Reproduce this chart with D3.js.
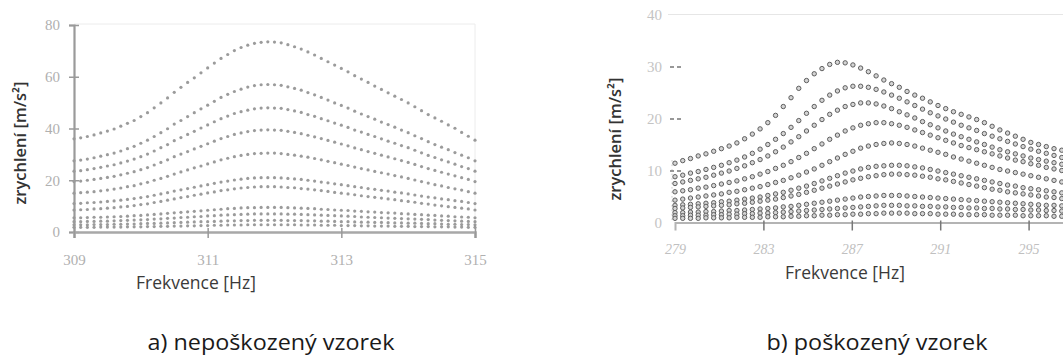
<!DOCTYPE html>
<html>
<head>
<meta charset="utf-8">
<script src="https://cdn.jsdelivr.net/npm/d3@7"></script>
<style>
  body { margin: 0; background: #fff; }
  svg { display: block; }
</style>
</head>
<body>
<script>
"use strict";

// ---- a) nepoškozený vzorek ----
const freqA = [309.0,309.1,309.2,309.3,309.4,309.5,309.6,309.7,309.8,309.9,
  310.0,310.1,310.2,310.3,310.4,310.5,310.6,310.7,310.8,310.9,
  311.0,311.1,311.2,311.3,311.4,311.5,311.6,311.7,311.8,311.9,
  312.0,312.1,312.2,312.3,312.4,312.5,312.6,312.7,312.8,312.9,
  313.0,313.1,313.2,313.3,313.4,313.5,313.6,313.7,313.8,313.9,
  314.0,314.1,314.2,314.3,314.4,314.5,314.6,314.7,314.8,314.9,
  315.0];

const a1 = [36.0,36.4,36.9,37.5,38.3,39.0,39.8,40.9,42.0,43.1,44.6,46.1,48.0,49.9,51.8,54.0,55.9,57.8,59.6,61.5,63.4,65.3,67.1,68.6,70.1,71.3,72.2,72.9,73.3,73.5,73.4,73.1,72.4,71.6,70.7,69.6,68.4,67.1,65.8,64.5,63.2,61.9,60.4,59.1,57.8,56.4,55.1,53.8,52.5,51.2,49.9,48.4,46.9,45.4,44.1,42.8,41.4,40.1,38.5,37.0,35.5];
const a2 = [27.5,27.8,28.2,28.7,29.3,29.9,30.5,31.3,32.2,33.1,34.3,35.5,36.9,38.4,39.9,41.7,43.1,44.6,46.1,47.6,49.0,50.5,52.0,53.2,54.3,55.2,56.0,56.6,56.9,57.0,56.9,56.7,56.1,55.5,54.8,53.9,53.0,52.0,51.0,49.9,48.9,47.9,46.7,45.6,44.6,43.6,42.5,41.5,40.5,39.4,38.4,37.2,36.1,34.9,33.8,32.8,31.8,30.7,29.7,28.7,27.5];
const a3 = [23.5,23.7,24.1,24.5,25.0,25.5,26.0,26.7,27.4,28.2,29.1,30.1,31.3,32.6,33.8,35.3,36.5,37.7,38.9,40.2,41.4,42.6,43.8,44.8,45.8,46.5,47.1,47.6,47.9,48.0,47.9,47.8,47.3,46.8,46.2,45.4,44.7,43.8,43.0,42.1,41.3,40.4,39.4,38.6,37.7,36.9,36.0,35.1,34.3,33.4,32.6,31.6,30.6,29.6,28.8,27.9,27.1,26.2,25.3,24.5,23.5];
const a4 = [19.5,19.7,20.0,20.3,20.7,21.1,21.5,22.1,22.7,23.3,24.1,24.9,25.9,26.9,27.9,29.1,30.1,31.1,32.1,33.1,34.1,35.1,36.1,36.9,37.7,38.3,38.8,39.2,39.4,39.5,39.4,39.3,38.9,38.5,38.0,37.4,36.8,36.1,35.4,34.7,34.0,33.3,32.5,31.8,31.1,30.4,29.7,29.0,28.3,27.6,26.9,26.1,25.3,24.5,23.8,23.1,22.4,21.7,21.0,20.3,19.5];
const a5 = [15.0,15.2,15.4,15.6,15.9,16.2,16.6,17.0,17.5,17.9,18.6,19.2,20.0,20.7,21.5,22.4,23.2,24.0,24.8,25.5,26.3,27.1,27.9,28.5,29.1,29.6,30.0,30.3,30.4,30.5,30.5,30.3,30.0,29.7,29.3,28.9,28.4,27.9,27.3,26.8,26.2,25.7,25.1,24.5,24.0,23.4,22.9,22.4,21.8,21.3,20.7,20.1,19.5,18.9,18.3,17.8,17.2,16.7,16.2,15.6,15.0];
const a6 = [11.0,11.1,11.3,11.4,11.6,11.8,12.0,12.3,12.6,12.9,13.3,13.7,14.2,14.7,15.2,15.8,16.3,16.8,17.3,17.8,18.3,18.8,19.3,19.7,20.1,20.4,20.7,20.9,21.0,21.0,21.0,20.9,20.7,20.5,20.3,20.0,19.7,19.3,19.0,18.6,18.3,17.9,17.5,17.2,16.8,16.5,16.1,15.8,15.4,15.1,14.7,14.3,13.9,13.5,13.2,12.8,12.5,12.1,11.8,11.4,11.0];
const a7 = [8.5,8.6,8.7,8.9,9.0,9.2,9.4,9.7,9.9,10.2,10.6,10.9,11.4,11.8,12.3,12.8,13.3,13.7,14.2,14.6,15.1,15.5,16.0,16.3,16.7,17.0,17.2,17.4,17.5,17.5,17.5,17.4,17.2,17.1,16.8,16.6,16.3,16.0,15.7,15.3,15.0,14.7,14.4,14.0,13.7,13.4,13.1,12.8,12.5,12.1,11.8,11.5,11.1,10.8,10.4,10.1,9.8,9.5,9.2,8.9,8.5];
const a8 = [5.5,5.5,5.6,5.7,5.7,5.8,5.9,6.0,6.1,6.3,6.4,6.6,6.8,7.0,7.2,7.4,7.6,7.8,8.0,8.2,8.4,8.6,8.8,9.0,9.1,9.3,9.4,9.4,9.5,9.5,9.5,9.5,9.4,9.3,9.2,9.1,9.0,8.8,8.7,8.5,8.4,8.3,8.1,8.0,7.8,7.7,7.5,7.4,7.3,7.1,7.0,6.8,6.7,6.5,6.4,6.2,6.1,5.9,5.8,5.7,5.5];
const a9 = [4.0,4.0,4.1,4.1,4.2,4.2,4.3,4.4,4.5,4.6,4.7,4.8,5.0,5.1,5.3,5.4,5.6,5.7,5.9,6.0,6.2,6.3,6.5,6.6,6.7,6.8,6.9,7.0,7.0,7.0,7.0,7.0,6.9,6.9,6.8,6.7,6.6,6.5,6.4,6.3,6.2,6.1,6.0,5.8,5.7,5.6,5.5,5.4,5.3,5.2,5.1,5.0,4.9,4.8,4.6,4.5,4.4,4.3,4.2,4.1,4.0];
const a10 = [2.8,2.8,2.8,2.9,2.9,2.9,3.0,3.0,3.1,3.1,3.2,3.3,3.3,3.4,3.5,3.6,3.7,3.8,3.9,4.0,4.0,4.1,4.2,4.3,4.3,4.4,4.4,4.5,4.5,4.5,4.5,4.5,4.4,4.4,4.4,4.3,4.3,4.2,4.2,4.1,4.0,4.0,3.9,3.8,3.8,3.7,3.7,3.6,3.5,3.5,3.4,3.4,3.3,3.2,3.2,3.1,3.0,3.0,2.9,2.9,2.8];
const a11 = [1.8,1.8,1.8,1.8,1.9,1.9,1.9,1.9,2.0,2.0,2.0,2.1,2.1,2.2,2.2,2.3,2.3,2.4,2.4,2.5,2.5,2.6,2.6,2.7,2.7,2.7,2.8,2.8,2.8,2.8,2.8,2.8,2.8,2.8,2.7,2.7,2.7,2.6,2.6,2.6,2.5,2.5,2.5,2.4,2.4,2.3,2.3,2.3,2.2,2.2,2.2,2.1,2.1,2.1,2.0,2.0,2.0,1.9,1.9,1.8,1.8];

const yTicksA = [0, 20, 40, 60, 80];
const xTicksA = [309, 311, 313, 315];

// ---- b) poškozený vzorek ----
const freqB = [279.00,279.35,279.70,280.05,280.40,280.75,281.10,281.45,281.80,282.15,
  282.50,282.85,283.20,283.55,283.90,284.25,284.60,284.95,285.30,285.65,
  286.00,286.35,286.70,287.05,287.40,287.75,288.10,288.45,288.80,289.15,
  289.50,289.85,290.20,290.55,290.90,291.25,291.60,291.95,292.30,292.65,
  293.00,293.35,293.70,294.05,294.40,294.75,295.10,295.45,295.80,296.15,
  296.50];

const b1 = [11.4,11.9,12.3,12.8,13.2,13.7,14.2,14.7,15.3,16.1,17.0,18.0,19.2,20.6,22.3,24.0,25.8,27.3,28.6,29.6,30.4,30.8,30.7,30.3,29.7,29.0,28.2,27.4,26.7,26.0,25.2,24.5,23.9,23.2,22.5,21.9,21.3,20.8,20.3,19.8,19.2,18.5,17.8,17.2,16.6,16.0,15.4,15.0,14.6,14.2,13.9];
const b2 = [8.8,9.1,9.5,9.8,10.2,10.6,11.0,11.5,12.0,12.6,13.3,14.1,15.0,16.0,17.1,18.3,19.6,21.0,22.3,23.5,24.5,25.3,25.9,26.2,26.2,26.0,25.6,25.1,24.5,23.9,23.2,22.5,21.8,21.1,20.5,19.9,19.3,18.7,18.2,17.7,17.1,16.6,16.1,15.6,15.1,14.6,14.1,13.7,13.3,12.9,12.5];
const b3 = [7.5,7.8,8.1,8.4,8.7,9.1,9.5,9.9,10.4,10.9,11.5,12.1,12.8,13.6,14.5,15.5,16.5,17.6,18.7,19.8,20.8,21.6,22.3,22.7,23.0,23.0,22.8,22.4,21.9,21.3,20.7,20.1,19.4,18.8,18.2,17.6,17.0,16.5,16.0,15.5,15.0,14.5,14.0,13.6,13.2,12.8,12.4,12.1,11.8,11.5,11.2];
const b4 = [5.9,6.1,6.3,6.6,6.8,7.1,7.4,7.7,8.0,8.4,8.8,9.3,9.8,10.4,11.0,11.7,12.5,13.3,14.2,15.1,16.0,16.8,17.6,18.2,18.7,19.0,19.2,19.2,19.0,18.7,18.3,17.8,17.3,16.8,16.3,15.8,15.3,14.8,14.4,14.0,13.6,13.2,12.8,12.4,12.0,11.7,11.3,11.0,10.6,10.3,10.0];
const b5 = [4.3,4.5,4.7,4.9,5.1,5.3,5.5,5.8,6.0,6.3,6.6,6.9,7.3,7.7,8.1,8.6,9.1,9.7,10.3,11.0,11.7,12.4,13.1,13.7,14.3,14.7,15.0,15.2,15.3,15.2,15.0,14.7,14.3,13.9,13.5,13.1,12.6,12.2,11.8,11.4,11.0,10.6,10.2,9.9,9.6,9.3,9.0,8.7,8.4,8.1,7.8];
const b6 = [3.3,3.4,3.5,3.6,3.7,3.8,4.0,4.1,4.3,4.5,4.7,4.9,5.2,5.5,5.8,6.2,6.6,7.0,7.5,8.0,8.5,9.0,9.5,9.9,10.3,10.6,10.8,10.9,11.0,11.0,10.9,10.7,10.5,10.2,9.9,9.6,9.3,9.0,8.7,8.4,8.1,7.8,7.5,7.2,7.0,6.7,6.5,6.3,6.1,5.9,5.7];
const b7 = [2.7,2.8,2.9,3.0,3.1,3.2,3.3,3.4,3.6,3.7,3.9,4.1,4.3,4.5,4.8,5.1,5.4,5.8,6.2,6.6,7.0,7.4,7.8,8.2,8.5,8.8,9.0,9.2,9.3,9.3,9.2,9.1,8.9,8.7,8.4,8.2,7.9,7.6,7.3,7.0,6.7,6.4,6.2,5.9,5.7,5.5,5.3,5.1,4.9,4.8,4.6];
const b8 = [1.9,1.9,2.0,2.0,2.1,2.1,2.2,2.3,2.3,2.4,2.5,2.6,2.7,2.8,3.0,3.1,3.3,3.5,3.7,3.9,4.1,4.3,4.5,4.7,4.9,5.0,5.1,5.2,5.2,5.2,5.1,5.0,4.9,4.8,4.7,4.6,4.5,4.4,4.3,4.2,4.1,4.0,3.9,3.8,3.7,3.6,3.5,3.4,3.3,3.3,3.2];
const b9 = [1.3,1.3,1.4,1.4,1.4,1.5,1.5,1.6,1.6,1.7,1.7,1.8,1.8,1.9,2.0,2.1,2.2,2.3,2.4,2.5,2.6,2.7,2.8,2.9,3.0,3.1,3.2,3.3,3.3,3.3,3.2,3.2,3.1,3.1,3.0,3.0,2.9,2.9,2.8,2.8,2.7,2.7,2.6,2.6,2.5,2.5,2.4,2.4,2.3,2.3,2.2];
const b10 = [0.8,0.8,0.8,0.8,0.9,0.9,0.9,0.9,1.0,1.0,1.0,1.0,1.1,1.1,1.1,1.2,1.2,1.3,1.3,1.4,1.4,1.5,1.5,1.6,1.6,1.7,1.7,1.8,1.8,1.8,1.8,1.7,1.7,1.7,1.6,1.6,1.6,1.5,1.5,1.5,1.5,1.4,1.4,1.4,1.4,1.3,1.3,1.3,1.3,1.2,1.2];

const yTicksB = [0, 10, 20, 30, 40];
const xTicksB = [279, 283, 287, 291, 295];

const seriesA = [a1, a2, a3, a4, a5, a6, a7, a8, a9, a10, a11];
const seriesB = [b1, b2, b3, b4, b5, b6, b7, b8, b9, b10];

let width = 1063;
let height = 356;

let svg = d3.select("body").append("svg").attr("width", width).attr("height", height);

// ---------- chart a ----------
let xA = d3.scaleLinear().domain([309, 315]).range([74, 475]);
let yA = d3.scaleLinear().domain([0, 80]).range([232, 25]);

let gA = svg.append("g");

// light frame top/right
gA.append("line").attr("x1", 74).attr("x2", 475).attr("y1", yA(80) - 1).attr("y2", yA(80) - 1)
  .attr("stroke", "#ececec").attr("stroke-width", 1);
gA.append("line").attr("x1", 475).attr("x2", 475).attr("y1", yA(80) - 1).attr("y2", yA(0))
  .attr("stroke", "#ececec").attr("stroke-width", 1);

seriesA.forEach(function (s) {
  gA.append("g").selectAll("circle")
    .data(s)
    .enter()
    .append("circle")
      .attr("cx", function (d, i) { return xA(freqA[i]); })
      .attr("cy", function (d) { return yA(d); })
      .attr("r", 1.6)
      .attr("fill", "#8a8a8a")
      .attr("opacity", 0.85);
});

let yAxisA = gA.append("g")
  .attr("transform", "translate(74,0)")
  .call(d3.axisLeft(yA).tickValues(yTicksA).tickSize(5).tickPadding(9));
yAxisA.select(".domain").attr("stroke", "#9a9a9a").attr("stroke-width", 2.2);
yAxisA.selectAll(".tick line").attr("x1", -5).attr("x2", 5).attr("stroke", "#9a9a9a").attr("stroke-width", 1.5);
yAxisA.selectAll(".tick text")
  .style("font-family", "'Liberation Serif', serif").style("font-size", "15px").attr("fill", "#b0b0b0");

let xAxisA = gA.append("g")
  .attr("transform", "translate(0," + yA(0) + ")")
  .call(d3.axisBottom(xA).tickValues(xTicksA).tickFormat(d3.format("d")).tickSize(6).tickPadding(16));
xAxisA.select(".domain").attr("stroke", "#a8a8a8").attr("stroke-width", 2.6);
xAxisA.selectAll(".tick line").attr("y1", -4).attr("y2", 6).attr("stroke", "#999").attr("stroke-width", 1.5);
xAxisA.selectAll(".tick text")
  .style("font-family", "'Liberation Serif', serif").style("font-size", "15px").attr("fill", "#b0b0b0");

gA.append("text")
  .attr("x", 196).attr("y", 289)
  .attr("text-anchor", "middle")
  .style("font-family", "'Open Sans', sans-serif").style("font-size", "17.5px")
  .attr("fill", "#3a3a3a")
  .text("Frekvence [Hz]");

gA.append("text")
  .attr("transform", "translate(26,143) rotate(-90)")
  .attr("text-anchor", "middle")
  .style("font-family", "'Open Sans', sans-serif").style("font-size", "16.5px").style("font-weight", "600")
  .attr("fill", "#333")
  .text("zrychlení [m/s²]");

// ---------- chart b ----------
let xB = d3.scaleLinear().domain([279, 299]).range([675, 1117]);
let yB = d3.scaleLinear().domain([0, 40]).range([222.5, 14.5]);

let gB = svg.append("g");

gB.append("line").attr("x1", 668).attr("x2", width).attr("y1", yB(40)).attr("y2", yB(40))
  .attr("stroke", "#e6e6e6").attr("stroke-width", 1);
gB.append("line").attr("x1", 672).attr("x2", 672).attr("y1", yB(12)).attr("y2", yB(0))
  .attr("stroke", "#c8c8c8").attr("stroke-width", 1).attr("stroke-dasharray", "1.5,3");

seriesB.forEach(function (s) {
  gB.append("g").selectAll("circle")
    .data(s)
    .enter()
    .append("circle")
      .attr("cx", function (d, i) { return xB(freqB[i]); })
      .attr("cy", function (d) { return yB(d); })
      .attr("r", 2.2)
      .attr("fill", "#d4d4d4")
      .attr("stroke", "#5e5e5e")
      .attr("stroke-width", 1);
});

let yAxisB = gB.append("g")
  .attr("transform", "translate(668,0)")
  .call(d3.axisLeft(yB).tickValues(yTicksB).tickSize(0).tickPadding(6));
yAxisB.select(".domain").remove();
yAxisB.selectAll(".tick text")
  .style("font-family", "'Liberation Serif', serif").style("font-size", "15px").attr("fill", "#c4c4c4");
yAxisB.selectAll(".tick").filter(function (d) { return d > 0 && d < 40; })
  .append("line").attr("x1", 2).attr("x2", 13)
  .attr("stroke", "#777").attr("stroke-width", 1.3).attr("stroke-dasharray", "4,3");

let xAxisB = gB.append("g")
  .attr("transform", "translate(0," + yB(0) + ")")
  .call(d3.axisBottom(xB).tickValues(xTicksB).tickFormat(d3.format("d")).tickSize(8).tickPadding(14));
xAxisB.select(".domain").attr("stroke", "#b4b4b4").attr("stroke-width", 2);
xAxisB.selectAll(".tick line").attr("y1", -2).attr("y2", 8).attr("stroke", "#777").attr("stroke-width", 1.5)
  .filter(function (d) { return d === 279; }).remove();
xAxisB.selectAll(".tick text")
  .style("font-family", "'Liberation Serif', serif").style("font-size", "14px").style("font-style", "italic")
  .attr("fill", "#c0c0c0");

gB.append("text")
  .attr("x", 845).attr("y", 279)
  .attr("text-anchor", "middle")
  .style("font-family", "'Open Sans', sans-serif").style("font-size", "17.5px")
  .attr("fill", "#3a3a3a")
  .text("Frekvence [Hz]");

gB.append("text")
  .attr("transform", "translate(621,139) rotate(-90)")
  .attr("text-anchor", "middle")
  .style("font-family", "'Open Sans', sans-serif").style("font-size", "16.5px").style("font-weight", "600")
  .attr("fill", "#333")
  .text("zrychlení [m/s²]");

// ---------- captions ----------
svg.append("text")
  .attr("x", 271).attr("y", 350)
  .attr("text-anchor", "middle")
  .attr("textLength", 247).attr("lengthAdjust", "spacingAndGlyphs")
  .style("font-family", "'Open Sans', sans-serif").style("font-size", "21px")
  .attr("fill", "#1a1a1a")
  .text("a) nepoškozený vzorek");

svg.append("text")
  .attr("x", 877).attr("y", 350)
  .attr("text-anchor", "middle")
  .attr("textLength", 221).attr("lengthAdjust", "spacingAndGlyphs")
  .style("font-family", "'Open Sans', sans-serif").style("font-size", "21px")
  .attr("fill", "#1a1a1a")
  .text("b) poškozený vzorek");
</script>
</body>
</html>
